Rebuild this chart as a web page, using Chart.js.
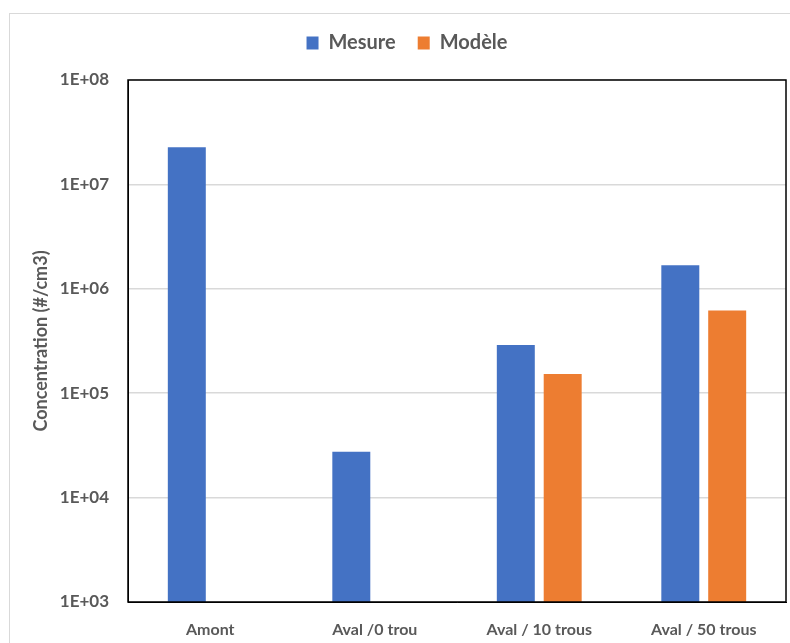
<!DOCTYPE html>
<html>
<head>
<meta charset="utf-8">
<script src="https://cdn.jsdelivr.net/npm/chart.js@4.4.1/dist/chart.umd.min.js"></script>
<style>
  html, body { margin: 0; padding: 0; background: #fff; }
  #frame { position: absolute; left: 9px; top: 13px; width: 800px; height: 650px; border: 1px solid #d9d9d9; }
  #wrap { position: absolute; left: 0; top: 0; width: 790px; height: 643px; }
</style>
</head>
<body>
<div id="frame"></div>
<div id="wrap"><canvas id="chart"></canvas></div>
<script>
// Data
const categories = ["Amont", "Aval /0 trou", "Aval / 10 trous", "Aval / 50 trous"];
const mesure = [2.27e7, 2.75e4, 2.9e5, 1.68e6];
const modele = [null, null, 1.53e5, 6.2e5];
const yTicks = [1e3, 1e4, 1e5, 1e6, 1e7, 1e8];

const grey = "#595959";

// Black frame around the plot area
const plotBorder = {
    id: "plotBorder",
    afterDraw(chart) {
        const a = chart.chartArea;
        const ctx = chart.ctx;
        ctx.save();
        ctx.strokeStyle = "#000";
        ctx.lineWidth = 1.5;
        ctx.strokeRect(a.left, a.top, a.right - a.left, a.bottom - a.top);
        ctx.restore();
    }
};

// Extra space under the legend
const legendGap = {
    id: "legendGap",
    beforeInit(chart) {
        const fit = chart.legend.fit;
        chart.legend.fit = function () {
            fit.bind(chart.legend)();
            this.height += 17;
        };
    }
};

const ctx = document.getElementById("chart").getContext("2d");
new Chart(ctx, {
    type: "bar",
    data: {
        labels: categories,
        datasets: [
            { label: "Mesure", data: mesure, backgroundColor: "#4472C4" },
            { label: "Modèle", data: modele, backgroundColor: "#ED7D31" }
        ]
    },
    options: {
        responsive: true,
        maintainAspectRatio: false,
        animation: false,
        categoryPercentage: 0.57,
        barPercentage: 0.81,
        layout: { padding: { left: 28, right: 4, top: 11, bottom: 4 } },
        plugins: {
            legend: {
                position: "top",
                labels: {
                    boxWidth: 12,
                    boxHeight: 13,
                    padding: 22,
                    color: grey,
                    font: { family: "Lato", size: 20, weight: "bold" }
                }
            },
            tooltip: { enabled: false }
        },
        scales: {
            x: {
                grid: { display: false },
                border: { display: true, color: "#000" },
                ticks: {
                    color: grey,
                    padding: 10,
                    font: { family: "Lato", size: 16, weight: "bold" }
                },
                afterFit: s => { s.height = 37; }
            },
            y: {
                type: "logarithmic",
                min: 1e3,
                max: 1e8,
                afterBuildTicks: s => { s.ticks = yTicks.map(v => ({ value: v })); },
                grid: { color: "#d9d9d9", lineWidth: 1.5, drawTicks: false },
                border: { display: true, color: "#000" },
                ticks: {
                    color: grey,
                    padding: 19,
                    font: { family: "Lato", size: 17, weight: "bold" },
                    callback: v => "1E+0" + Math.round(Math.log10(v))
                },
                title: {
                    display: true,
                    text: "Concentration (#/cm3)",
                    color: grey,
                    padding: { top: 2, bottom: 0 },
                    font: { family: "Lato", size: 18, weight: "bold" }
                },
                afterFit: s => { s.width = 100; }
            }
        }
    },
    plugins: [plotBorder, legendGap]
});
</script>
</body>
</html>
